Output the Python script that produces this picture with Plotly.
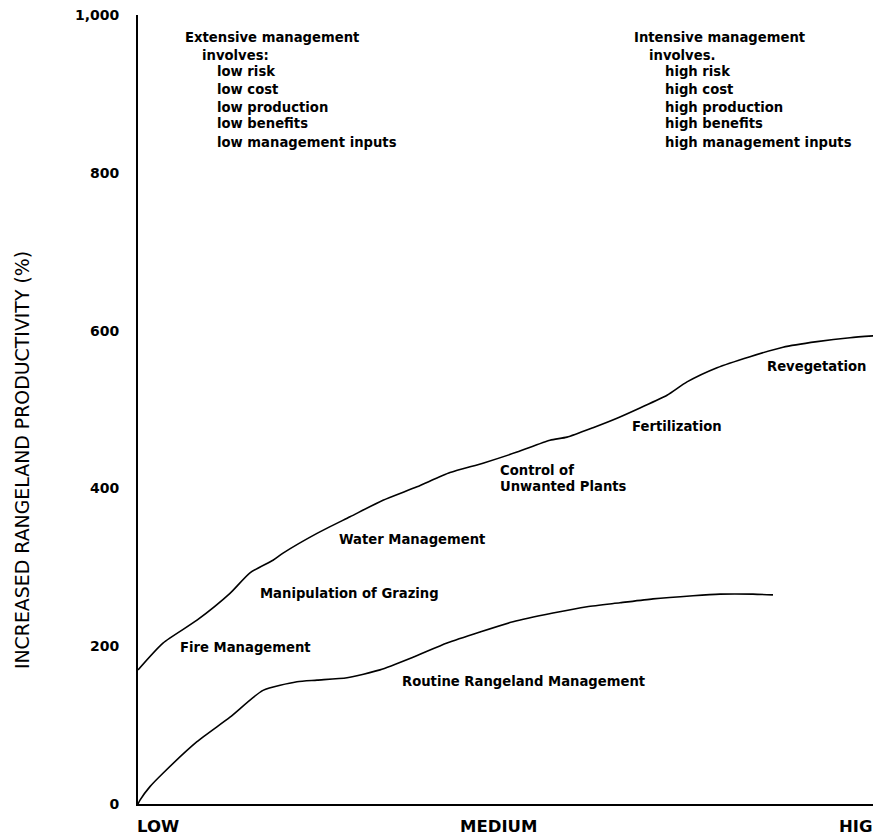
import plotly.graph_objects as go

# Intensity of management (0 = LOW, 100 = HIGH)
upper_x = [0, 3.36, 7.94, 12.38, 15.07, 18.17, 19.52, 24.09, 28.53, 32.97, 37.55, 41.99,
           46.43, 51.01, 55.45, 57.74, 61.24, 64.47, 67.56, 71.2, 73.89, 77.93, 82.37,
           86.81, 91.39, 95.83, 100]
upper_y = [170, 204, 233, 267, 293, 309, 318, 343, 364, 385, 402, 420,
           432, 446, 461, 465, 477, 489, 502, 518, 535, 553, 567,
           579, 586, 591, 594]

lower_x = [0, 0.27, 1.61, 3.36, 7.94, 12.38, 16.82, 21.4, 24.09, 28.13, 32.57, 37.01,
           41.59, 46.03, 50.47, 55.85, 60.43, 64.87, 69.31, 74.7, 78.33, 82.77, 85.46]
lower_y = [0, 5, 22, 39, 79, 110, 144, 155, 157, 160, 170, 186,
           204, 218, 231, 242, 250, 255, 260, 264, 266, 266, 265]

y_ticks = [0, 200, 400, 600, 800, 1000]
y_tick_labels = ["0", "200", "400", "600", "800", "1,000"]
x_labels = ["LOW", "MEDIUM", "HIGH"]
y_title = "INCREASED RANGELAND PRODUCTIVITY (%)"

extensive_lines = ["Extensive management", "involves:", "low risk", "low cost",
                   "low production", "low benefits", "low management inputs"]
intensive_lines = ["Intensive management", "involves.", "high risk", "high cost",
                   "high production", "high benefits", "high management inputs"]

practice_labels = ["Fire Management", "Manipulation of Grazing", "Water Management",
                   "Control of", "Unwanted Plants", "Fertilization", "Revegetation",
                   "Routine Rangeland Management"]
practice_x = [5.38, 16.15, 26.8, 48.45, 48.45, 66.2, 84.4, 35.3]
practice_y = [198, 267, 335, 423, 402, 478, 554, 155]

FONT = "DejaVu Sans"
fig = go.Figure()
fig.add_trace(go.Scatter(x=upper_x, y=upper_y, mode="lines",
                         line=dict(color="black", width=1.6, shape="spline", smoothing=0.6),
                         hoverinfo="skip"))
fig.add_trace(go.Scatter(x=lower_x, y=lower_y, mode="lines",
                         line=dict(color="black", width=1.6, shape="spline", smoothing=0.6),
                         hoverinfo="skip"))

ann = []
line_y = [972, 949, 928, 906, 883, 862, 839]
indent_left = [6.06, 8.34, 10.36, 10.36, 10.36, 10.36, 10.36]
indent_right = [66.5, 68.5, 70.66, 70.66, 70.66, 70.66, 70.66]
txt_font = dict(family=FONT, size=13.2, color="black", weight="bold")
for i, t in enumerate(extensive_lines):
    ann.append(dict(x=indent_left[i], y=line_y[i], text=t, xanchor="left", yanchor="middle",
                    showarrow=False, font=txt_font))
for i, t in enumerate(intensive_lines):
    ann.append(dict(x=indent_right[i], y=line_y[i], text=t, xanchor="left", yanchor="middle",
                    showarrow=False, font=txt_font))
for t, x, y in zip(practice_labels, practice_x, practice_y):
    ann.append(dict(x=x, y=y, text=t, xanchor="left", yanchor="middle", showarrow=False,
                    font=txt_font))

x_label_pos = [-0.004, 0.4307, 0.9408]
for t, x in zip(x_labels, x_label_pos):
    ann.append(dict(x=x, y=-0.0285, xref="paper", yref="paper", text=t, xanchor="left",
                    yanchor="middle", showarrow=False,
                    font=dict(family=FONT, size=16.5, color="black", weight="bold")))

ann.append(dict(x=-0.156, y=0.436, xref="paper", yref="paper", text=y_title, textangle=-90,
                xanchor="center", yanchor="middle", showarrow=False,
                font=dict(family=FONT, size=18.9, color="black")))

fig.update_layout(
    width=873, height=830,
    margin=dict(l=130, r=0, t=7, b=34),
    paper_bgcolor="white", plot_bgcolor="white",
    showlegend=False,
    annotations=ann,
    xaxis=dict(range=[0, 100], showgrid=False, zeroline=False, showticklabels=False,
               showline=True, linecolor="black", linewidth=1.5, ticks=""),
    yaxis=dict(range=[0, 1000], showgrid=False, zeroline=False, tickvals=y_ticks,
               ticktext=y_tick_labels, showline=True, linecolor="black", linewidth=2,
               ticks="", ticklabelstandoff=14, ticklabeloverflow="allow",
               tickfont=dict(family=FONT, size=14, color="black", weight="bold")),
)
fig.write_html("out.html")
